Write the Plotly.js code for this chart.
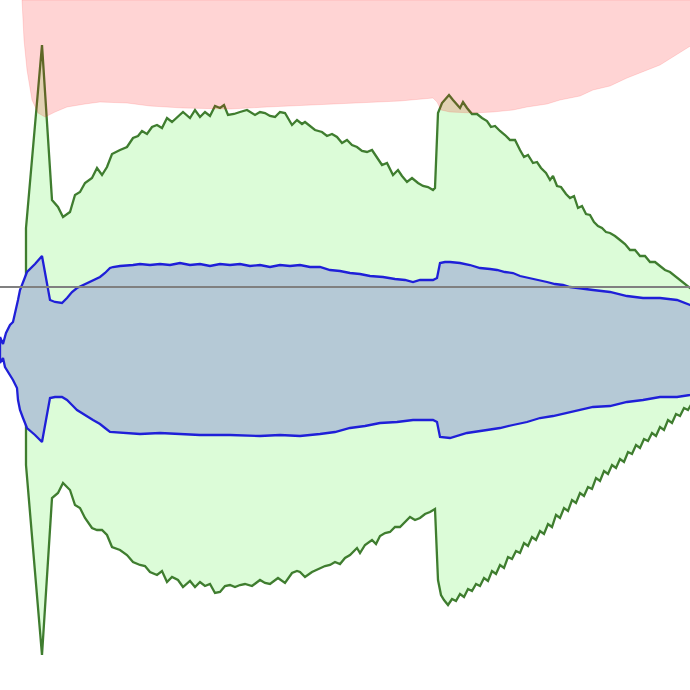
<!DOCTYPE html>
<html>
<head>
<meta charset="utf-8">
<script src="https://cdn.plot.ly/plotly-3.0.1.min.js"></script>
<style>html,body{margin:0;padding:0;background:#fff;}#chart{width:690px;height:690px;}</style>
</head>
<body>
<div id="chart"></div>
<script>
// ---- data (amplitude relative to centre line) ----
const greenUpperX = [26,42,52,58,63,70,75,80,85,92,97,102,107,112,120,127,133,138,142,147,152,157,162,167,172,178,183,190,195,200,205,210,215,220,224,228,234,240,247,255,260,265,270,275,280,285,292,297,302,305,310,315,322,327,332,337,342,347,352,357,362,367,372,377,382,387,393,398,402,407,412,418,423,428,433,435,438,442,446,449,453,457,460,463,467,472,477,482,487,491,495,500,505,510,515,520,524,528,533,537,541,546,550,553,557,561,566,570,574,578,582,586,590,594,598,602,606,610,615,620,625,630,635,640,645,650,655,660,665,670,675,680,685,690,695];
const greenUpperY = [122,305,150,143,133,138,155,158,167,172,182,175,183,196,200,203,212,214,219,216,223,225,222,232,228,233,238,232,240,233,238,234,244,242,245,235,236,238,240,235,238,237,234,233,238,237,225,230,226,228,224,220,218,214,216,213,207,210,205,203,199,198,200,192,185,187,175,180,174,168,172,167,164,163,160,162,237,247,252,255,250,246,242,248,242,236,236,232,229,223,224,219,215,210,210,200,193,195,187,188,182,177,170,174,164,163,156,152,154,142,144,136,135,128,124,122,118,117,114,110,106,100,100,94,94,88,88,84,80,78,74,70,66,62,60];
const greenLowerX = [26,42,52,58,63,70,75,80,85,92,97,102,107,112,120,127,133,140,145,150,157,162,167,172,178,183,190,195,200,205,210,215,220,225,230,235,240,245,252,260,265,270,278,285,292,297,300,305,312,320,325,330,335,340,345,350,357,360,365,372,376,380,385,390,395,400,405,410,415,420,425,430,435,438,441,444,448,452,456,460,464,468,472,476,480,484,488,492,496,500,504,508,512,516,520,524,528,532,536,540,544,548,552,556,560,564,568,572,576,580,584,588,592,596,600,604,608,612,616,620,624,628,632,636,640,644,648,652,656,660,664,668,672,676,680,684,688,692,696];
const greenLowerY = [-115,-305,-148,-143,-133,-140,-155,-158,-168,-178,-180,-180,-185,-197,-200,-205,-212,-215,-216,-222,-225,-221,-232,-227,-230,-237,-231,-237,-232,-236,-234,-243,-242,-236,-235,-237,-235,-234,-236,-230,-233,-234,-228,-233,-223,-221,-222,-227,-222,-218,-216,-215,-212,-214,-208,-205,-198,-203,-195,-190,-194,-186,-183,-182,-177,-177,-172,-167,-170,-168,-164,-162,-159,-230,-245,-250,-255,-249,-251,-244,-247,-239,-241,-234,-236,-228,-231,-221,-224,-215,-218,-207,-209,-201,-203,-193,-196,-187,-190,-181,-184,-174,-177,-165,-168,-158,-161,-150,-153,-143,-146,-137,-139,-128,-131,-121,-124,-115,-118,-109,-112,-102,-104,-95,-98,-89,-91,-83,-86,-77,-80,-70,-73,-64,-66,-58,-60,-53,-55];

const blueUpperX = [0,3,6,10,13,16,18,20,23,27,35,42,46,50,55,62,67,72,77,87,93,100,105,110,113,120,133,140,150,160,170,180,190,200,210,220,230,240,250,260,270,280,290,300,310,320,330,340,350,360,370,383,395,405,413,420,433,437,440,445,450,460,470,480,490,497,505,513,520,530,540,547,555,563,570,580,593,610,627,643,660,677,690,695];
const blueUpperY = [13,6,17,25,28,40,50,60,67,78,86,94,72,50,48,47,52,58,62,67,70,73,77,82,83,84,85,86,85,86,85,87,85,86,84,86,85,86,84,85,83,85,84,85,83,83,80,79,77,76,74,73,71,70,68,70,70,72,87,88,88,87,85,82,81,80,78,77,74,72,70,68,66,65,63,62,60,58,54,52,52,50,45,44];
const blueLowerX = [0,3,5,10,13,17,18,20,23,27,35,42,46,50,55,62,67,72,77,87,93,100,105,110,120,140,160,180,200,230,260,280,300,320,335,350,365,380,397,413,433,437,440,450,467,487,500,513,527,540,553,567,580,593,610,627,643,660,677,690,695];
const blueLowerY = [-13,-8,-17,-25,-30,-38,-50,-60,-68,-78,-85,-92,-70,-48,-47,-47,-50,-55,-60,-66,-70,-74,-78,-82,-83,-84,-83,-84,-85,-85,-86,-85,-86,-84,-82,-78,-76,-73,-72,-70,-70,-72,-87,-88,-83,-80,-78,-75,-72,-68,-66,-63,-60,-57,-56,-52,-50,-47,-47,-45,-44];

const redBoundX = [22,24,27,32,38,45,55,67,85,100,127,150,183,230,267,333,400,433,437,441,450,473,493,513,527,547,560,580,593,610,627,660,690,700];
const redBoundY = [350,310,280,250,237,233,238,243,246,248,247,244,242,241,243,246,249,252,248,240,238,237,238,240,243,246,250,254,260,264,272,285,303,310];
const redTop = 350;

const thresholdY = 63;
const thresholdX = [0, 690];

// ---- build closed polygons ----
function polygon(ux, uy, lx, ly) {
  const x = ux.concat(lx.slice().reverse());
  const y = uy.concat(ly.slice().reverse());
  x.push(ux[0]); y.push(uy[0]);
  return {x: x, y: y};
}
const gPoly = polygon(greenUpperX, greenUpperY, greenLowerX, greenLowerY);
const bPoly = polygon(blueUpperX, blueUpperY, blueLowerX, blueLowerY);
const rPoly = {
  x: redBoundX.concat([redBoundX[redBoundX.length-1], redBoundX[0]]),
  y: redBoundY.concat([redTop, redTop])
};

const traces = [
  {type:'scatter', mode:'lines', x:gPoly.x, y:gPoly.y, fill:'toself',
   fillcolor:'#dcfcd8', line:{color:'#3f7d2f', width:2.3}, hoverinfo:'skip'},
  {type:'scatter', mode:'lines', x:bPoly.x, y:bPoly.y, fill:'toself',
   fillcolor:'#b5c9d6', line:{color:'#1f1fd8', width:2.3}, hoverinfo:'skip'},
  {type:'scatter', mode:'lines', x:rPoly.x, y:rPoly.y, fill:'toself',
   fillcolor:'rgba(255,0,0,0.17)', line:{color:'rgba(255,0,0,0.12)', width:1}, hoverinfo:'skip'},
  {type:'scatter', mode:'lines', x:thresholdX, y:[thresholdY, thresholdY],
   line:{color:'#808080', width:2}, hoverinfo:'skip'}
];

const layout = {
  width:690, height:690,
  margin:{l:0, r:0, t:0, b:0},
  paper_bgcolor:'#ffffff', plot_bgcolor:'#ffffff',
  showlegend:false,
  xaxis:{range:[0,690], visible:false, fixedrange:true},
  yaxis:{range:[-340,350], visible:false, fixedrange:true}
};

Plotly.newPlot('chart', traces, layout, {staticPlot:true, displayModeBar:false});
</script>
</body>
</html>
